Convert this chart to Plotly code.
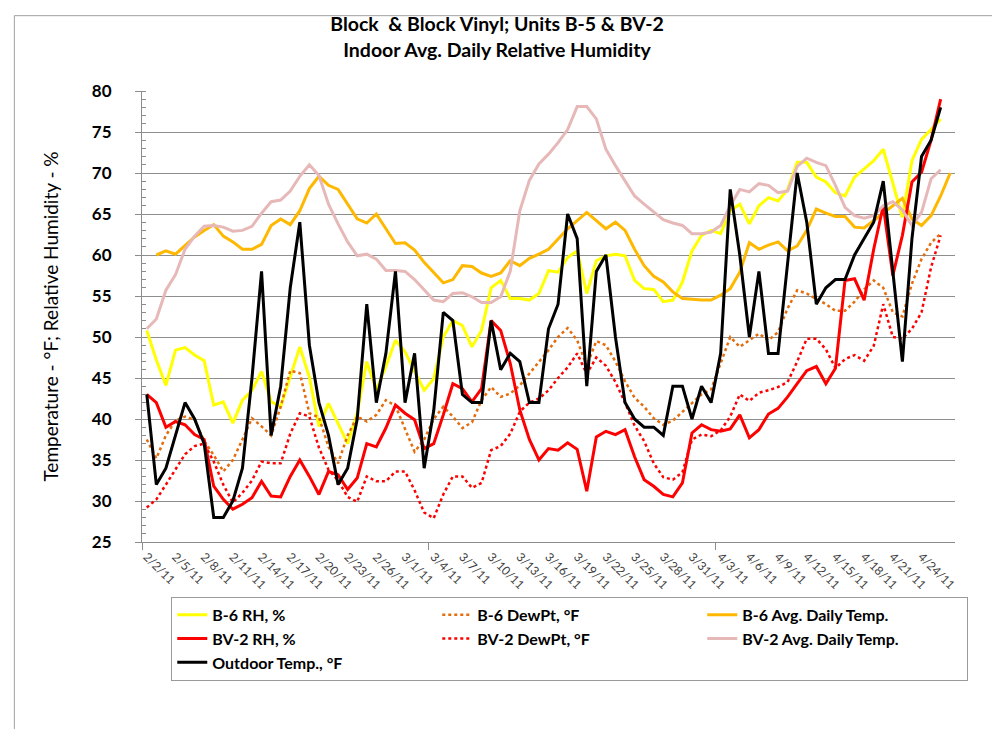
import plotly.graph_objects as go
import pandas as pd

# ---- categories (one per day, 2/2/11 .. 4/27/11) ----
dates = pd.date_range("2011-02-02", "2011-04-27", freq="D")
categories = [f"{d.month}/{d.day}/11" for d in dates]
tick_labels = categories[0:82:3]

# ---- series values ----
b6_rh = [50.8, 47.2, 44.1, 48.4, 48.7, 47.8, 47.1, 41.7, 42.1, 39.5,
         42.3, 43.5, 45.8, 42.1, 41.5, 45.3, 48.8, 45.1, 39.1, 41.9,
         39.5, 37.0, 40.7, 47.0, 43.5, 46.4, 49.6, 48.2, 45.8, 43.5,
         44.9, 50.0, 52.0, 51.4, 48.8, 50.8, 56.0, 56.9, 54.7, 54.7,
         54.5, 55.3, 58.1, 57.9, 59.7, 60.5, 55.3, 59.3, 59.9, 60.1,
         59.9, 56.9, 55.9, 55.8, 54.3, 54.5, 56.7, 60.5, 62.4, 63.0,
         62.6, 65.4, 66.2, 63.8, 66.0, 67.0, 66.6, 68.0, 71.3, 71.3,
         69.5, 68.9, 67.6, 67.2, 69.5, 70.5, 71.5, 72.9, 68.8, 64.6,
         71.5, 74.1, 75.3, 76.6]

b6_dewpt = [37.5, 35.2, 38.0, 39.8, 40.3, 39.9, 37.3, 35.6, 33.6, 35.0,
            37.5, 40.1, 39.1, 38.0, 41.5, 45.9, 45.6, 40.7, 40.2, 36.6,
            34.6, 38.0, 40.3, 39.7, 40.5, 42.3, 41.6, 38.7, 36.0, 37.5,
            40.0, 41.5, 40.3, 38.9, 39.6, 42.3, 43.9, 42.7, 43.1, 44.1,
            45.5, 46.9, 48.4, 50.0, 51.1, 49.6, 46.5, 49.5, 49.0, 47.0,
            44.6, 42.6, 41.5, 40.1, 39.3, 39.8, 40.9, 41.9, 43.0, 43.6,
            46.8, 50.0, 48.8, 49.6, 50.4, 49.6, 50.6, 53.5, 55.7, 55.3,
            54.7, 54.0, 53.2, 53.2, 54.3, 55.8, 56.9, 56.0, 53.0, 52.5,
            56.5, 59.5, 61.5, 62.6]

# B-6 average daily temperature starts on 2/3/11 and ends on 4/27/11
b6_avg = [60.0, 60.5, 60.1, 61.2, 62.2, 63.0, 63.7, 62.3, 61.6, 60.7,
          60.7, 61.3, 63.6, 64.4, 63.7, 65.4, 68.1, 69.6, 68.5, 68.0,
          66.2, 64.4, 63.9, 65.0, 63.2, 61.4, 61.5, 60.6, 59.1, 57.9,
          56.6, 57.0, 58.7, 58.6, 57.8, 57.4, 57.8, 59.3, 58.7, 59.6,
          60.1, 60.7, 61.9, 63.2, 64.2, 65.2, 64.2, 63.2, 64.0, 63.0,
          60.7, 58.7, 57.4, 56.7, 55.5, 54.7, 54.6, 54.5, 54.5, 55.1,
          55.9, 57.9, 61.5, 60.7, 61.2, 61.6, 60.5, 61.1, 63.0, 65.6,
          65.1, 64.7, 64.7, 63.4, 63.3, 64.2, 65.0, 66.0, 66.9, 64.4,
          63.6, 64.8, 67.2, 70.0]

bv2_rh = [43.0, 42.0, 39.0, 39.7, 39.3, 38.1, 37.5, 31.8, 30.2, 29.0,
          29.6, 30.4, 32.4, 30.6, 30.5, 33.0, 35.0, 33.0, 30.8, 33.6,
          33.2, 31.4, 32.8, 37.0, 36.6, 38.9, 41.7, 40.7, 39.9, 36.4,
          37.0, 40.5, 44.3, 43.7, 42.1, 43.7, 52.0, 50.8, 46.8, 41.1,
          37.5, 35.0, 36.4, 36.2, 37.1, 36.3, 31.2, 37.8, 38.5, 38.1,
          38.7, 35.4, 32.6, 31.8, 30.8, 30.5, 32.2, 38.3, 39.3, 38.7,
          38.5, 38.8, 40.5, 37.7, 38.7, 40.6, 41.3, 42.7, 44.3, 45.9,
          46.4, 44.3, 46.2, 56.9, 57.1, 54.5, 60.7, 66.0, 57.5, 62.4,
          68.9, 70.1, 74.0, 79.0]

bv2_dewpt = [29.2, 30.2, 32.0, 33.8, 35.7, 36.7, 37.0, 34.8, 32.0, 29.8,
             31.0, 32.5, 34.8, 34.6, 34.6, 38.2, 40.7, 40.3, 36.5, 33.8,
             32.5, 30.5, 29.9, 33.0, 32.4, 32.4, 33.6, 33.6, 31.3, 28.6,
             27.9, 30.8, 33.0, 33.0, 31.6, 32.2, 36.2, 36.7, 38.2, 40.9,
             42.0, 42.5, 43.5, 45.0, 46.3, 48.0, 45.5, 47.5, 46.5, 44.5,
             42.0, 39.2, 37.3, 34.6, 32.9, 32.6, 33.5, 37.5, 38.1, 37.9,
             38.6, 40.3, 43.0, 42.2, 43.2, 43.5, 43.9, 44.5, 47.0, 49.8,
             49.8, 48.5, 46.2, 47.3, 47.8, 47.1, 48.9, 54.0, 50.0, 49.8,
             51.0, 53.0, 58.5, 62.4]

bv2_avg = [51.0, 52.2, 55.7, 57.6, 60.7, 62.3, 63.5, 63.6, 63.4, 62.9,
           63.0, 63.5, 65.1, 66.5, 66.7, 67.8, 69.6, 71.0, 69.7, 66.2,
           63.8, 61.6, 59.9, 60.1, 59.5, 58.1, 58.1, 58.0, 57.0, 55.7,
           54.5, 54.3, 55.3, 55.4, 54.9, 54.2, 54.2, 54.9, 58.0, 65.4,
           69.1, 71.1, 72.3, 73.7, 75.3, 78.1, 78.1, 76.6, 72.9, 70.9,
           69.1, 67.2, 66.2, 65.2, 64.3, 63.9, 63.6, 62.6, 62.6, 62.8,
           63.6, 66.0, 68.0, 67.7, 68.7, 68.5, 67.6, 67.8, 70.8, 71.8,
           71.3, 70.9, 68.5, 65.8, 64.8, 64.5, 64.8, 66.0, 66.5, 65.5,
           63.6, 65.2, 69.3, 70.4]

outdoor = [43, 32, 34, 38, 42, 40, 37, 28, 28, 30,
           34, 45, 58, 38, 44, 56, 64, 49, 42, 38,
           32, 34, 40, 54, 42, 48, 58, 42, 48, 34,
           41, 53, 52, 43, 42, 42, 52, 46, 48, 47,
           42, 42, 51, 54, 65, 62, 44, 58, 60, 50,
           42, 40, 39, 39, 38, 44, 44, 40, 44, 42,
           48, 68, 60, 50, 58, 48, 48, 59, 70, 64,
           54, 56, 57, 57, 60, 62, 64, 69, 58, 47,
           62, 72, 74, 78]

pos = list(range(len(categories)))
x_main = pos[:len(outdoor)]
x_b6avg = pos[1:1 + len(b6_avg)]
tick_pos = [categories.index(t) for t in tick_labels]

FONT = "Lato, Open Sans, sans-serif"

series = [
    ("B-6 RH, %", x_main, b6_rh, "#FFFF00", "solid", 3),
    ("B-6 DewPt, °F", x_main, b6_dewpt, "#E46C0A", "dot", 2.5),
    ("B-6 Avg. Daily Temp.", x_b6avg, b6_avg, "#FFB800", "solid", 3),
    ("BV-2 RH, %", x_main, bv2_rh, "#FF0000", "solid", 3),
    ("BV-2 DewPt, °F", x_main, bv2_dewpt, "#FF0000", "dot", 2.5),
    ("BV-2 Avg. Daily Temp.", x_main, bv2_avg, "#E6B9B8", "solid", 3),
    ("Outdoor Temp., °F", x_main, outdoor, "#000000", "solid", 3),
]

fig = go.Figure()
for name, xs, ys, color, dash, w in series:
    fig.add_trace(go.Scatter(
        x=xs, y=ys, name=name, mode="lines",
        line=dict(color=color, width=w, dash=dash),
        hoverinfo="skip",
    ))

fig.update_layout(
    width=1000, height=729,
    paper_bgcolor="white", plot_bgcolor="white",
    margin=dict(l=133.5, r=53.3, t=83.3, b=194.7),
    font=dict(family=FONT, color="#000000"),
    title=dict(
        text="Block\u00a0 & Block Vinyl; Units B-5 & BV-2<br>Indoor Avg. Daily Relative Humidity",
        x=0.489, xanchor="center", y=0.968, yanchor="top",
        font=dict(family=FONT, size=19.5, weight="bold", color="#000000"),
    ),
    showlegend=True,
    legend=dict(
        orientation="h", x=0.036, xanchor="left", y=-0.1215, yanchor="top",
        entrywidth=220, entrywidthmode="pixels",
        bgcolor="white", bordercolor="#9A9A9A", borderwidth=1,
        font=dict(family=FONT, size=16, weight="bold", color="#000000"),
        traceorder="normal", tracegroupgap=0, itemwidth=30,
    ),
    xaxis=dict(
        range=[-0.5, len(categories) - 0.5],
        tickmode="array", tickvals=tick_pos, ticktext=tick_labels,
        tickangle=45, ticks="", showgrid=False, zeroline=False,
        showline=True, linecolor="#8C8C8C", linewidth=1,
        tickfont=dict(family=FONT, size=12, color="#404040"),
        ticklabelstandoff=2,
        minor=dict(tickmode="array", tickvals=[-0.5, 29.5, 59.5], ticks="outside",
                   ticklen=7, tickcolor="#8C8C8C", showgrid=False),
    ),
    yaxis=dict(
        range=[25, 80], tickmode="linear", tick0=25, dtick=5,
        showgrid=True, gridcolor="#8E8E8E", gridwidth=1,
        zeroline=False, showline=True, linecolor="#8C8C8C", linewidth=1,
        ticks="outside", ticklen=6, tickcolor="#8C8C8C",
        tickfont=dict(family=FONT, size=17, weight="bold", color="#000000"),
        ticklabelstandoff=20,
        minor=dict(dtick=1, ticks="inside", ticklen=4, tickcolor="#8C8C8C", showgrid=False),
        title=dict(text="Temperature - °F; Relative Humidity - %", standoff=28,
                   font=dict(family=FONT, size=19, color="#000000")),
    ),
)

# chart-area outline
fig.add_shape(type="rect", xref="paper", yref="paper",
              x0=-0.157, x1=1.0585, y0=-0.425, y1=1.167,
              line=dict(color="#A0A0A0", width=1), fillcolor="rgba(0,0,0,0)", layer="below")

fig.write_html("out.html")
